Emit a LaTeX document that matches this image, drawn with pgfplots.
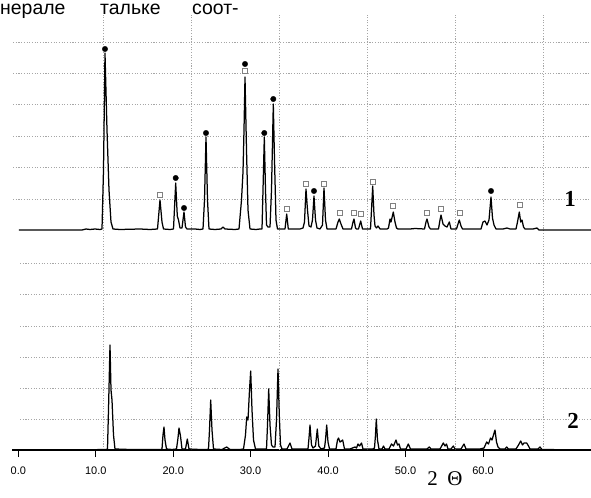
\documentclass[border=0pt]{standalone}
\usepackage{fontspec}
\setmainfont{Liberation Sans}
\newfontfamily\serif{Liberation Serif}
\usepackage{pgfplots}
\pgfplotsset{compat=1.18}
\usepackage{pgfplotstable}

% Diffractogram 1 (upper trace): 2theta (deg), intensity above its own baseline
\pgfplotstableread{
tt I
0.090 0
8.225 0
8.741 1
9.258 0.5
9.903 1
10.549 0.5
10.807 1
11.001 60
11.194 177
11.453 100
11.711 40
11.969 8
12.227 1
13.131 0.5
15.713 1
17.005 0.5
17.973 1
18.296 30
18.554 8
18.748 1
19.587 0.5
20.039 1
20.323 47
20.529 14
20.684 10
20.878 2
21.136 2
21.395 18
21.588 3
21.782 1
22.815 1
23.461 0.5
23.848 1
24.042 30
24.235 93
24.429 30
24.622 1
25.397 0.5
26.172 1
26.430 3
26.688 1
27.979 0.5
28.496 1
28.819 30
29.012 58
29.142 100
29.271 153
29.465 80
29.658 20
29.916 1
30.691 0.5
31.207 1
31.466 1
31.595 40
31.763 93
31.918 40
32.047 5
32.240 3
32.499 3
32.692 40
32.925 126
33.080 70
33.273 10
33.467 1
34.177 1
34.435 1
34.655 16
34.861 1
35.726 1
36.372 1
36.759 2
36.953 8
37.146 41
37.340 20
37.534 4
37.792 3
37.985 10
38.179 34
38.373 10
38.566 2
38.954 1
39.277 5
39.470 42
39.664 10
39.858 1
40.632 1
41.020 1
41.278 8
41.446 11
41.666 6
41.924 1
42.569 1
43.021 1
43.215 8
43.344 11
43.538 2
43.667 1
43.925 1
44.209 9
44.442 1
45.152 1
45.475 1
45.604 20
45.759 44
45.927 15
46.056 4
46.249 2
46.443 4
46.701 1
47.605 1
47.799 2
47.992 11
48.121 8
48.418 18
48.638 8
48.831 2
49.025 1
50.574 1
51.220 1.5
52.447 1
52.640 8
52.770 11
53.028 3
53.222 1
53.803 1
54.254 1
54.448 10
54.577 15
54.836 6
55.094 4
55.352 3
55.649 8
55.869 1
56.256 1
56.578 1
56.772 6
56.940 10
57.159 4
57.353 1
58.321 1
59.354 1
59.742 1
60.000 8
60.258 9
60.516 5
60.775 10
61.033 33
61.226 12
61.420 5
61.678 1
62.582 1
63.098 2
63.486 1
64.261 1
64.454 8
64.687 18
64.868 8
65.036 10
65.229 3
65.423 1
66.456 1
66.972 2
67.230 0
68.005 0
73.944 0
}\patternone

% Diffractogram 2 (lower trace)
\pgfplotstableread{
tt I
-0.813 0
9.258 0
10.549 0.5
11.323 0.5
11.517 1
11.646 40
11.840 105
11.969 60
12.098 50
12.292 15
12.485 1
14.422 0.5
17.005 0.5
18.425 0.5
18.554 1
18.683 15
18.812 23
18.941 10
19.135 1
19.845 0.5
20.426 1
20.620 12
20.749 22
20.943 14
21.136 1
21.588 1
21.820 11
22.040 1
23.461 0.5
24.364 0.5
24.558 1
24.687 20
24.842 50
25.010 20
25.204 1
26.301 0.5
26.908 3
27.334 0.5
28.625 0.5
29.077 1
29.335 15
29.490 33
29.658 30
29.852 60
30.007 79
30.175 40
30.368 10
30.626 1
31.466 1
32.047 1
32.176 25
32.331 61
32.499 25
32.692 5
32.886 3
33.144 3
33.338 30
33.531 81
33.699 35
33.854 5
34.048 1
34.693 1
35.081 7
35.339 1
36.372 1
37.146 1
37.405 1
37.534 12
37.663 25
37.857 5
38.050 2
38.373 4
38.606 21
38.799 4
39.083 1
39.535 2
39.664 10
39.819 25
39.987 8
40.181 1
40.762 1
41.020 1
41.214 10
41.343 12
41.537 8
41.730 9
41.885 10
42.117 1
42.827 1
43.473 3
43.667 2
43.860 6
44.054 4
44.313 7
44.506 1
45.410 1
45.797 1
45.991 2
46.120 15
46.223 31
46.378 10
46.572 1
46.959 1
47.153 4
47.346 1
47.863 1
48.186 6
48.444 4
48.767 10
48.960 5
49.154 6
49.348 1
50.058 1
50.355 6
50.639 1
51.866 1
52.770 1
53.067 3
53.286 1
54.448 1
54.874 7
55.094 4
55.287 6
55.481 1
55.869 1
56.165 4
56.385 1
57.159 1
57.547 6
57.805 1
58.321 1
59.612 1
60.129 2
60.478 8
60.710 6
60.968 12
61.162 10
61.355 15
61.549 20
61.743 8
61.936 3
62.195 1
62.840 1
63.060 3
63.292 1
64.261 1
64.583 5
64.868 9
65.100 5
65.294 7
65.642 7
65.875 4
66.069 1
67.101 1
67.359 3
67.617 0.5
73.944 0
}\patterntwo

% Reflections of phase "dot" in pattern 1
\pgfplotstableread{
tt I
11.194 181
20.323 52
21.395 22
24.235 97
29.271 166
31.763 97
32.925 131
38.179 39
61.033 39
}\dotpeaks

% Reflections of phase "square" in pattern 1
\pgfplotstableread{
tt I
18.296 35
29.271 159
34.629 21
37.185 46
39.470 46.5
41.446 17.5
43.279 17
44.209 16
45.759 48
48.418 24
52.770 17
54.577 21
56.940 17
64.687 25
}\squarepeaks

\pgfplotsset{
  gridline/.style={gray!70, line width=0.75bp, dash pattern=on 1.1bp off 1.6bp, forget plot},
  trace/.style={black, line width=1.25bp, line join=round, mark=none},
}

\begin{document}
\begin{tikzpicture}
\begin{axis}[
  name=ax,
  x=7.745bp, y=1bp,
  xmin=-0.813, xmax=73.944, ymin=0, ymax=450,
  enlargelimits=false,
  axis x line=bottom,
  axis y line=none,
  x axis line style={-, line width=1.2bp},
  xtick={0,10,20,30,40,50,60},
  xticklabels={0.0,10.0,20.0,30.0,40.0,50.0,60.0},
  tick align=outside,
  major tick length=7bp,
  x tick style={black, line width=1bp},
  xticklabel style={font=\fontsize{11}{13}\selectfont, yshift=-6bp},
  clip=false,
]
% vertical chart-paper lines
\addplot[gridline] coordinates {(10.94,0) (10.94,435)};
\addplot[gridline] coordinates {(22.30,0) (22.30,435)};
\addplot[gridline] coordinates {(33.66,0) (33.66,435)};
\addplot[gridline] coordinates {(45.02,0) (45.02,435)};
\addplot[gridline] coordinates {(56.38,0) (56.38,435)};
\addplot[gridline] coordinates {(67.75,0) (67.75,435)};
% horizontal chart-paper lines, lower panel
\addplot[gridline] coordinates {(0.22,31) (73.94,31)};
\addplot[gridline] coordinates {(0.22,62) (73.94,62)};
\addplot[gridline] coordinates {(0.22,93) (73.94,93)};
\addplot[gridline] coordinates {(0.22,124) (73.94,124)};
\addplot[gridline] coordinates {(0.22,156) (73.94,156)};
\addplot[gridline] coordinates {(0.22,187) (73.94,187)};
% horizontal chart-paper lines, upper panel
\addplot[gridline] coordinates {(-0.68,251) (73.94,251)};
\addplot[gridline] coordinates {(-0.68,283) (73.94,283)};
\addplot[gridline] coordinates {(-0.68,314) (73.94,314)};
\addplot[gridline] coordinates {(-0.68,346) (73.94,346)};
\addplot[gridline] coordinates {(-0.68,377) (73.94,377)};
\addplot[gridline] coordinates {(-0.68,408) (73.94,408)};

% the two diffractograms, pattern 1 offset upwards
\addplot[trace] table[x=tt, y expr=\thisrow{I}+220] {\patternone};
\addplot[trace] table[x=tt, y=I] {\patterntwo};

% phase markers
\addplot[only marks, mark=*, black, mark size=2.7bp]
  table[x=tt, y expr=\thisrow{I}+220] {\dotpeaks};
\addplot[only marks, mark=square*, gray, mark size=2.5bp,
  mark options={fill=white, line width=0.6bp}]
  table[x=tt, y expr=\thisrow{I}+220] {\squarepeaks};

\node[font=\serif\bfseries\fontsize{23}{26}\selectfont] at (axis cs:71.23,251) {1};
\node[font=\serif\bfseries\fontsize{23}{26}\selectfont] at (axis cs:71.62,29) {2};
\node[font=\serif\fontsize{21}{24}\selectfont] at (axis cs:55.09,-29) {2\hspace{0.45em}Θ};
% running text of the page above the figure
\node[anchor=base west, inner sep=0pt, font=\fontsize{19.5}{22}\selectfont]
  at (axis cs:-2.363,435.5) {нерале};
\node[anchor=base west, inner sep=0pt, font=\fontsize{19.5}{22}\selectfont]
  at (axis cs:10.55,435.5) {тальке};
\node[anchor=base west, inner sep=0pt, font=\fontsize{19.5}{22}\selectfont]
  at (axis cs:22.43,435.5) {соот-};
\end{axis}
\pgfresetboundingbox
\path[use as bounding box] (ax.south west) ++(-12bp,-48bp) rectangle ++(591bp,498bp);
\end{tikzpicture}
\end{document}
